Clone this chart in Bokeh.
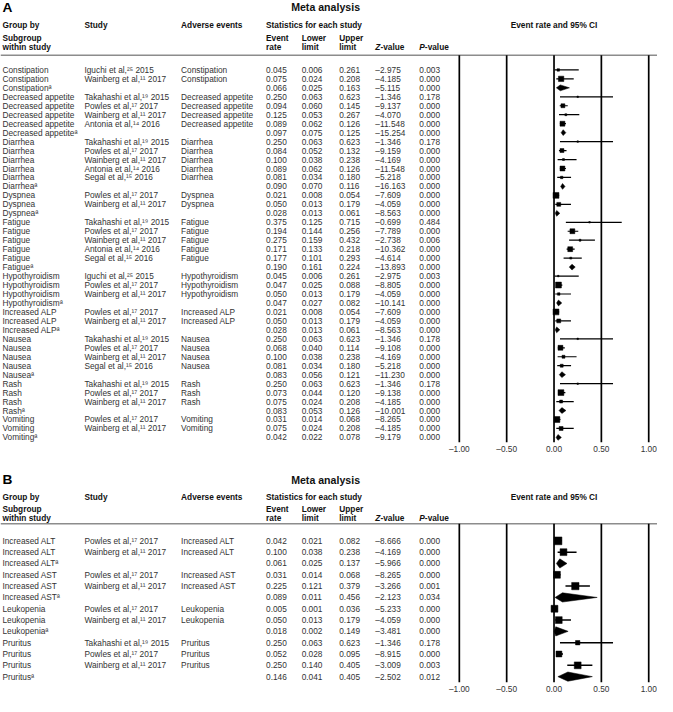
from bokeh.plotting import figure
from bokeh.models import Range1d, LinearAxis, FixedTicker, CustomJSTickFormatter
from bokeh.layouts import column
from bokeh.embed import file_html
from bokeh.resources import INLINE
from bokeh.core.properties import value

# ---------------- data ----------------
IGU = "Iguchi et al,\u00b2\u2075 2015"
WAI = "Wainberg et al,\u00b9\u00b9 2017"
TAK = "Takahashi et al,\u00b9\u2079 2015"
POW = "Powles et al,\u00b9\u2077 2017"
ANT = "Antonia et al,\u00b9\u2074 2016"
SEG = "Segal et al,\u00b9\u2075 2016"
SUP = "\u00aa"

a_subgroup = ["Constipation", "Constipation", "Constipation" + SUP,
              "Decreased appetite", "Decreased appetite", "Decreased appetite", "Decreased appetite", "Decreased appetite" + SUP,
              "Diarrhea", "Diarrhea", "Diarrhea", "Diarrhea", "Diarrhea", "Diarrhea" + SUP,
              "Dyspnea", "Dyspnea", "Dyspnea" + SUP,
              "Fatigue", "Fatigue", "Fatigue", "Fatigue", "Fatigue", "Fatigue" + SUP,
              "Hypothyroidism", "Hypothyroidism", "Hypothyroidism", "Hypothyroidism" + SUP,
              "Increased ALP", "Increased ALP", "Increased ALP" + SUP,
              "Nausea", "Nausea", "Nausea", "Nausea", "Nausea" + SUP,
              "Rash", "Rash", "Rash", "Rash" + SUP,
              "Vomiting", "Vomiting", "Vomiting" + SUP]
a_study = [IGU, WAI, "",
           TAK, POW, WAI, ANT, "",
           TAK, POW, WAI, ANT, SEG, "",
           POW, WAI, "",
           TAK, POW, WAI, ANT, SEG, "",
           IGU, POW, WAI, "",
           POW, WAI, "",
           TAK, POW, WAI, SEG, "",
           TAK, POW, WAI, "",
           POW, WAI, ""]
a_rate = [0.045, 0.075, 0.066,
          0.250, 0.094, 0.125, 0.089, 0.097,
          0.250, 0.084, 0.100, 0.089, 0.081, 0.090,
          0.021, 0.050, 0.028,
          0.375, 0.194, 0.275, 0.171, 0.177, 0.190,
          0.045, 0.047, 0.050, 0.047,
          0.021, 0.050, 0.028,
          0.250, 0.068, 0.100, 0.081, 0.083,
          0.250, 0.073, 0.075, 0.083,
          0.031, 0.075, 0.042]
a_lower = [0.006, 0.024, 0.025,
           0.063, 0.060, 0.053, 0.062, 0.075,
           0.063, 0.052, 0.038, 0.062, 0.034, 0.070,
           0.008, 0.013, 0.013,
           0.125, 0.144, 0.159, 0.133, 0.101, 0.161,
           0.006, 0.025, 0.013, 0.027,
           0.008, 0.013, 0.013,
           0.063, 0.040, 0.038, 0.034, 0.056,
           0.063, 0.044, 0.024, 0.053,
           0.014, 0.024, 0.022]
a_upper = [0.261, 0.208, 0.163,
           0.623, 0.145, 0.267, 0.126, 0.125,
           0.623, 0.132, 0.238, 0.126, 0.180, 0.116,
           0.054, 0.179, 0.061,
           0.715, 0.256, 0.432, 0.218, 0.293, 0.224,
           0.261, 0.088, 0.179, 0.082,
           0.054, 0.179, 0.061,
           0.623, 0.114, 0.238, 0.180, 0.121,
           0.623, 0.120, 0.208, 0.126,
           0.068, 0.208, 0.078]
a_z = [-2.975, -4.185, -5.115,
       -1.346, -9.137, -4.070, -11.548, -15.254,
       -1.346, -9.159, -4.169, -11.548, -5.218, -16.163,
       -7.609, -4.059, -8.563,
       -0.699, -7.789, -2.738, -10.362, -4.614, -13.893,
       -2.975, -8.805, -4.059, -10.141,
       -7.609, -4.059, -8.563,
       -1.346, -9.108, -4.169, -5.218, -11.230,
       -1.346, -9.138, -4.185, -10.001,
       -8.265, -4.185, -9.179]
a_p = [0.003, 0.000, 0.000,
       0.178, 0.000, 0.000, 0.000, 0.000,
       0.178, 0.000, 0.000, 0.000, 0.000, 0.000,
       0.000, 0.000, 0.000,
       0.484, 0.000, 0.006, 0.000, 0.000, 0.000,
       0.003, 0.000, 0.000, 0.000,
       0.000, 0.000, 0.000,
       0.178, 0.000, 0.000, 0.000, 0.000,
       0.178, 0.000, 0.000, 0.000,
       0.000, 0.000, 0.000]
# relative study weights (read as square sizes); summaries get 0
a_weight = [2.5, 5.5, 0,
            1.5, 4, 2, 5, 0,
            1.5, 4, 2, 5, 2.5, 0,
            6, 4, 0,
            1.5, 5, 2, 5, 2, 0,
            1.5, 6, 2.5, 0,
            6, 4, 0,
            1.5, 5, 3, 3, 0,
            1.5, 6, 3, 0,
            6, 4, 0]

b_subgroup = ["Increased ALT", "Increased ALT", "Increased ALT" + SUP,
              "Increased AST", "Increased AST", "Increased AST" + SUP,
              "Leukopenia", "Leukopenia", "Leukopenia" + SUP,
              "Pruritus", "Pruritus", "Pruritus", "Pruritus" + SUP]
b_study = [POW, WAI, "", POW, WAI, "", POW, WAI, "", TAK, POW, WAI, ""]
b_rate = [0.042, 0.100, 0.061, 0.031, 0.225, 0.089, 0.005, 0.050, 0.018, 0.250, 0.052, 0.250, 0.146]
b_lower = [0.021, 0.038, 0.025, 0.014, 0.121, 0.011, 0.001, 0.013, 0.002, 0.063, 0.028, 0.140, 0.041]
b_upper = [0.082, 0.238, 0.137, 0.068, 0.379, 0.456, 0.036, 0.179, 0.149, 0.623, 0.095, 0.405, 0.405]
b_z = [-8.666, -4.169, -5.966, -8.265, -3.266, -2.123, -5.233, -4.059, -3.481, -1.346, -8.915, -3.009, -2.502]
b_p = [0.000, 0.000, 0.000, 0.000, 0.001, 0.034, 0.000, 0.000, 0.000, 0.178, 0.000, 0.003, 0.012]
b_weight = [8, 7, 0, 7, 7.5, 0, 7, 7, 0, 4.5, 6, 7, 0]

axis_ticks = [-1.0, -0.5, 0.0, 0.5, 1.0]

# ---------------- layout constants (reference pixel units) ----------------
REF_W, REF_H = 673.0, 712.0
PAGE_W, PAGE_H = 657, 696
S = PAGE_H / REF_H
FL, FR = 470.0, 664.0          # reference px of -1 and +1
COLX = dict(sub=2, study=86, event=185, rate=272, lower=308.5, upper=347, z=384, p=429)
FONT = value("Liberation Sans")
F_DATA = "8.3px"
F_HEAD = "8.3px"
F_TITLE = "10.6px"
F_LETTER = "13.7px"
DATA_COLOR = "#333333"
HEAD_COLOR = "#111111"


def fmt(v):
    return ("%.3f" % v).replace("-", "\u2013")


def txt(p, xs, ys, texts, size, style="normal", color=DATA_COLOR, align="left"):
    p.text(x=xs, y=ys, text=texts, text_font=FONT, text_font_size=value(size),
           text_font_style=value(style), text_color=color, text_align=align,
           text_baseline="middle")


def make_fig(height, border_bottom, ref_top):
    frame_px = height - border_bottom
    ref_bottom = ref_top + frame_px / S
    u = 2.0 / (FR - FL)
    p = figure(width=PAGE_W, height=height, x_range=Range1d(0, REF_W),
               y_range=Range1d(ref_bottom, ref_top), output_backend="svg",
               toolbar_location=None, x_axis_type=None, y_axis_type=None,
               min_border_left=0, min_border_right=0, min_border_top=0,
               min_border_bottom=border_bottom)
    p.outline_line_color = None
    p.background_fill_color = "white"
    p.border_fill_color = "white"
    p.extra_x_ranges = {"forest": Range1d(-1 - FL * u, 1 + (REF_W - FR) * u)}
    ax = LinearAxis(x_range_name="forest", ticker=FixedTicker(ticks=axis_ticks),
                    formatter=CustomJSTickFormatter(code="return tick.toFixed(2).replace('-', '\u2013')"),
                    axis_line_color=None, major_tick_line_color=None, minor_tick_line_color=None,
                    major_tick_out=0, major_tick_in=0, major_label_standoff=1,
                    major_label_text_font="Liberation Sans", major_label_text_font_size="8.3px",
                    major_label_text_color=DATA_COLOR)
    p.add_layout(ax, "below")
    return p, ref_bottom


def panel(p, letter, y_letter, y_h1, y_h2, y_h3, y_line, y_bottom, y0, dy,
          sub, study, rate, lower, upper, zv, pv, weight, diamond_h, ci_w):
    txt(p, [COLX["sub"]], [y_letter], [letter], F_LETTER, "bold", "black")
    txt(p, [333], [y_letter + (1 if letter == "B" else 0)], ["Meta analysis"], F_TITLE, "bold", HEAD_COLOR, "center")
    txt(p, [COLX["sub"], COLX["study"], COLX["event"], COLX["rate"]], [y_h1] * 4,
        ["Group by", "Study", "Adverse events", "Statistics for each study"], F_HEAD, "bold", HEAD_COLOR)
    txt(p, [(FL + FR) / 2], [y_h1], ["Event rate and 95% CI"], F_HEAD, "bold", HEAD_COLOR, "center")
    txt(p, [COLX["sub"], COLX["rate"], COLX["lower"], COLX["upper"]], [y_h2] * 4,
        ["Subgroup", "Event", "Lower", "Upper"], F_HEAD, "bold", HEAD_COLOR)
    txt(p, [COLX["sub"], COLX["rate"], COLX["lower"], COLX["upper"]], [y_h3] * 4,
        ["within study", "rate", "limit", "limit"], F_HEAD, "bold", HEAD_COLOR)
    txt(p, [COLX["z"], COLX["p"]], [y_h3] * 2, ["Z", "P"], F_HEAD, "bold italic", HEAD_COLOR)
    txt(p, [COLX["z"] + 5.2, COLX["p"] + 5.7], [y_h3] * 2, ["-value", "-value"], F_HEAD, "bold", HEAD_COLOR)

    p.segment(x0=[0], x1=[REF_W], y0=[y_line], y1=[y_line], line_color="#8c8c8c", line_width=1.5)
    p.segment(x0=axis_ticks, x1=axis_ticks, y0=[y_line] * 5, y1=[y_bottom] * 5,
              x_range_name="forest", line_color="black", line_width=1.7)

    n = len(sub)
    ys = [y0 + i * dy for i in range(n)]
    events = [s if st else "" for s, st in zip(sub, study)]
    txt(p, [COLX["sub"]] * n, ys, sub, F_DATA)
    txt(p, [COLX["study"]] * n, ys, study, F_DATA)
    txt(p, [COLX["event"]] * n, ys, events, F_DATA)
    txt(p, [COLX["rate"]] * n, ys, [fmt(v) for v in rate], F_DATA)
    txt(p, [COLX["lower"]] * n, ys, [fmt(v) for v in lower], F_DATA)
    txt(p, [COLX["upper"]] * n, ys, [fmt(v) for v in upper], F_DATA)
    txt(p, [COLX["z"]] * n, ys, [fmt(v) for v in zv], F_DATA)
    txt(p, [COLX["p"]] * n, ys, [fmt(v) for v in pv], F_DATA)

    si = [i for i in range(n) if study[i]]
    di = [i for i in range(n) if not study[i]]
    p.segment(x0=[lower[i] for i in si], x1=[upper[i] for i in si],
              y0=[ys[i] for i in si], y1=[ys[i] for i in si],
              x_range_name="forest", line_color="black", line_width=ci_w)
    p.scatter(x=[rate[i] for i in si], y=[ys[i] for i in si],
              size=[max(weight[i] * S, 1.5) for i in si], marker="square",
              x_range_name="forest", fill_color="black", line_color="black", line_width=0.5)
    p.patches(xs=[[lower[i], rate[i], upper[i], rate[i]] for i in di],
              ys=[[ys[i], ys[i] - diamond_h, ys[i], ys[i] + diamond_h] for i in di],
              x_range_name="forest", fill_color="black", line_color="black", line_width=0.5)


HA, BA = 456, 14
pa, a_bottom = make_fig(HA, BA, 0.0)
panel(pa, "A", 7, 25, 38, 48, 56, a_bottom, 71.0, 9.17,
      a_subgroup, a_study, a_rate, a_lower, a_upper, a_z, a_p, a_weight, 3.0, 1.2)

HB, BB = PAGE_H - HA, 10
pb, b_bottom = make_fig(HB, BB, HA / S)
panel(pb, "B", 490, 509, 521.5, 530.7, 536.5, b_bottom, 554.3, 11.78,
      b_subgroup, b_study, b_rate, b_lower, b_upper, b_z, b_p, b_weight, 4.8, 1.5)

layout = column(pa, pb, spacing=0)
open("out.html", "w").write(file_html(layout, INLINE))
